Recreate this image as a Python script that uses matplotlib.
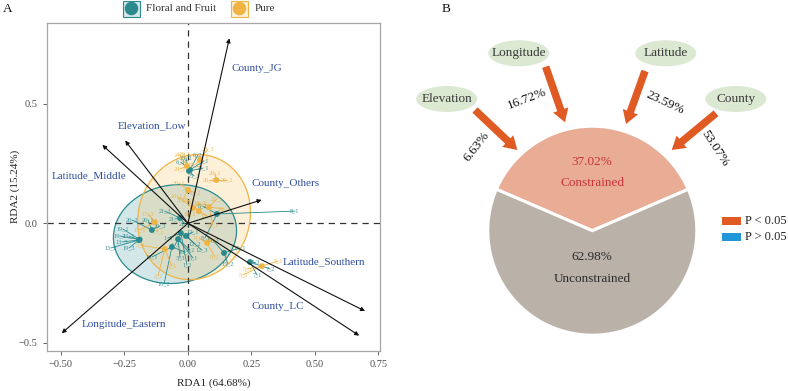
import numpy as np
import matplotlib
matplotlib.use("Agg")
import matplotlib.pyplot as plt
from matplotlib.patches import Ellipse, FancyArrow, Rectangle

plt.rcParams['font.family'] = ['Liberation Serif', 'DejaVu Serif']

# ---------------- Panel A data (RDA scores) ----------------
env_names = ["County_JG", "Elevation_Low", "Latitude_Middle", "County_Others",
             "Latitude_Southern", "County_LC", "Longitude_Eastern"]
env_x = [0.163, -0.247, -0.337, 0.290, 0.697, 0.674, -0.497]
env_y = [0.774, 0.346, 0.328, 0.098, -0.367, -0.470, -0.460]
env_lab_x = [0.270, -0.143, -0.389, 0.385, 0.537, 0.353, -0.251]
env_lab_y = [0.648, 0.407, 0.199, 0.167, -0.161, -0.349, -0.423]

# sites: group, centroid, replicate scores
site_names = ["13", "19", "20", "21", "1", "3", "12", "8", "15", "7", "6", "25", "16",
              "2", "17", "10", "18", "22", "26", "24", "28", "30", "9", "5"]
site_group = ["F"] * 13 + ["P"] * 11
site_cx = [-0.193, -0.190, -0.142, -0.031, -0.028, -0.039, -0.008, 0.114, 0.142, 0.244, 0.008, 0.004, -0.063,
           -0.091, -0.130, 0.020, 0.043, 0.083, 0.112, -0.004, 0.047, 0.000, 0.075, 0.291]
site_cy = [-0.070, -0.068, -0.028, 0.022, -0.041, -0.066, -0.053, 0.039, -0.124, -0.162, 0.223, 0.219, -0.099,
           -0.108, 0.005, 0.064, 0.051, 0.068, 0.181, 0.240, 0.265, 0.139, -0.082, -0.179]
rep_x = [[-0.232, -0.303, -0.260], [-0.256, -0.268, -0.232], [-0.157, -0.220, -0.110],
         [-0.051, -0.012, -0.091], [-0.079, -0.004, -0.051], [0.020, 0.008, -0.031],
         [0.020, 0.028, 0.055], [0.421, 0.059, 0.067], [0.205, 0.157, 0.098],
         [0.272, 0.323, 0.264], [0.063, 0.039, -0.028], [0.059, -0.008, 0.024],
         [-0.142, -0.094, -0.012],
         [-0.063, -0.118, -0.189], [-0.189, -0.118, -0.157], [-0.043, 0.008, 0.047],
         [0.055, 0.075, 0.000], [0.114, 0.098, 0.142], [0.106, 0.154, 0.083],
         [-0.031, -0.031, -0.016], [0.059, 0.028, 0.079], [-0.035, 0.028, -0.020],
         [0.098, 0.106, 0.043], [0.354, 0.217, 0.232]]
rep_y = [[-0.053, -0.103, -0.078], [-0.024, -0.053, -0.103], [0.014, 0.014, -0.011],
         [0.018, -0.003, 0.051], [-0.062, -0.174, -0.091], [-0.145, -0.112, -0.145],
         [-0.036, -0.087, -0.112], [0.051, 0.072, -0.062], [-0.103, -0.170, -0.070],
         [-0.216, -0.191, -0.162], [0.261, 0.286, 0.256], [0.231, 0.273, 0.198],
         [-0.141, -0.254, -0.120],
         [-0.179, -0.221, -0.091], [-0.028, -0.036, 0.039], [0.114, 0.039, 0.085],
         [0.081, 0.031, 0.097], [0.102, -0.007, 0.060], [0.210, 0.181, 0.181],
         [0.227, 0.286, 0.290], [0.273, 0.244, 0.311], [0.169, 0.127, 0.098],
         [-0.070, -0.141, -0.062], [-0.158, -0.216, -0.191]]
rep_ids = ["1", "2", "3"]

# group ellipses: center x, center y, width, height, angle
ell_group = ["F", "P"]
ell_cx = [-0.051, 0.024]
ell_cy = [-0.045, 0.026]
ell_w = [0.488, 0.440]
ell_h = [0.410, 0.527]
ell_ang = [12, -12]
group_labels = {"F": "Floral and Fruit", "P": "Pure"}

x_label = "RDA1 (64.68%)"
y_label = "RDA2 (15.24%)"
x_ticks = [-0.50, -0.25, 0.00, 0.25, 0.50, 0.75]
y_ticks = [-0.5, 0.0, 0.5]

# ---------------- Panel B data ----------------
pie_labels = ["Constrained", "Unconstrained"]
pie_values = [37.02, 62.98]
factor_names = ["Elevation", "Longitude", "Latitude", "County"]
factor_pct = [6.63, 16.72, 23.59, 53.07]
factor_sig = [True, True, True, True]
legend_labels = ["P < 0.05", "P > 0.05"]

colors = {"F": "#2a8a8e", "P": "#f0b445"}
fills = {"F": "#2a8a8e", "P": "#f0b445"}
blue_txt = "#2f4e9e"

W, H = 788, 391
fig = plt.figure(figsize=(W / 100, H / 100), dpi=100)

# ---------------- Panel A ----------------
ax = fig.add_axes([46.7 / W, 1 - 350.7 / H, (380 - 46.7) / W, (350.7 - 23) / H])
ax.set_xlim(-0.556, 0.756)
ax.set_ylim(-0.533, 0.838)

for g, cx, cy, w, h, a in zip(ell_group, ell_cx, ell_cy, ell_w, ell_h, ell_ang):
    ax.add_patch(Ellipse((cx, cy), w, h, angle=a, facecolor=fills[g], alpha=0.2,
                         edgecolor='none', zorder=1))
    ax.add_patch(Ellipse((cx, cy), w, h, angle=a, facecolor='none',
                         edgecolor=colors[g], lw=0.9, zorder=2))

ax.axhline(0, color='#333333', lw=0.9, ls=(0, (5, 4)), zorder=2)
ax.axvline(0, color='#333333', lw=0.9, ls=(0, (5, 4)), zorder=2)

for name, g, cx, cy, rx, ry in zip(site_names, site_group, site_cx, site_cy, rep_x, rep_y):
    c = colors[g]
    for rid, x, y in zip(rep_ids, rx, ry):
        ax.plot([cx, x], [cy, y], color=c, lw=0.6, zorder=3)
        ax.text(x, y, f"{name}_{rid}", color=c, fontsize=4.5, ha='center', va='center',
                alpha=0.9, zorder=4)
    ax.scatter([cx], [cy], s=18, color=c, zorder=5, edgecolors='none')

for name, x, y, lx, ly in zip(env_names, env_x, env_y, env_lab_x, env_lab_y):
    ax.annotate("", xy=(x, y), xytext=(0, 0),
                arrowprops=dict(arrowstyle='-|>', color='#111111', lw=0.8,
                                mutation_scale=6, shrinkA=0, shrinkB=0), zorder=6)
    ax.text(lx, ly, name, color=blue_txt, fontsize=8, ha='center', va='center', zorder=7)

ax.set_xticks(x_ticks)
ax.set_xticklabels([f"{t:.2f}".replace("-", "\u2212") for t in x_ticks])
ax.set_yticks(y_ticks)
ax.set_yticklabels([f"{t:.1f}".replace("-", "\u2212") for t in y_ticks])
ax.tick_params(labelsize=7.5, labelcolor='#4d4d4d', color='#4d4d4d', length=3, width=0.6)
for s in ax.spines.values():
    s.set_color('#a6a6a6')
    s.set_linewidth(0.9)
ax.set_xlabel(x_label, fontsize=8, color='#222222')
ax.set_ylabel(y_label, fontsize=8, color='#222222')
ax.xaxis.set_label_coords(0.5, -0.083)
ax.yaxis.set_label_coords(-0.08, 0.5)

# ---------------- overlay (pixel coords) ----------------
ov = fig.add_axes([0, 0, 1, 1], zorder=10)
ov.set_xlim(0, W)
ov.set_ylim(H, 0)
ov.axis('off')
ov.patch.set_alpha(0)

ov.text(3, 9, "A", fontsize=9.5, ha='left', va='center', color='#111111')
ov.text(442, 9, "B", fontsize=9.5, ha='left', va='center', color='#111111')

key_x = [123, 231]
text_x = [146, 255]
for g, kx, tx in zip(ell_group, key_x, text_x):
    ov.add_patch(Rectangle((kx, 0.5), 17, 16, facecolor=fills[g], alpha=0.2, edgecolor='none'))
    ov.add_patch(Rectangle((kx, 0.5), 17, 16, facecolor='none', edgecolor=colors[g], lw=0.8))
    ov.scatter([kx + 8.5], [8.5], s=95, color=colors[g], edgecolors='none')
    ov.text(tx, 8.5, group_labels[g], fontsize=8, ha='left', va='center', color='#333333')

# ---------------- Panel B ----------------
axB = fig.add_axes([400 / W, 0, 388 / W, 1])
pcx, pcy, pr = 592.3, H - 230.7, 104.5
start = 90 - pie_values[0] / 100 * 360 / 2
axB.pie(pie_values, colors=['#e9ad95', '#bab2a9'], startangle=start, counterclock=True,
        center=(pcx, pcy), radius=pr,
        wedgeprops=dict(edgecolor='white', linewidth=2.2))
axB.set_xlim(400, 788)
axB.set_ylim(0, H)
axB.set_aspect('equal')
axB.axis('off')

axB.text(pcx, H - 161.7, f"{pie_values[0]:.2f}%", color='#c8333d', fontsize=9.5, ha='center', va='center')
axB.text(pcx, H - 183.3, pie_labels[0], color='#c8333d', fontsize=9.5, ha='center', va='center')
axB.text(pcx, H - 256.7, f"{pie_values[1]:.2f}%", color='#2b2b2b', fontsize=9.5, ha='center', va='center')
axB.text(pcx, H - 279.3, pie_labels[1], color='#2b2b2b', fontsize=9.5, ha='center', va='center')

ell_pos = [(446.7, 99), (518.8, 53.3), (665.8, 53.3), (735.8, 99)]
arr_from = [(475, 110), (545.7, 66.7), (645, 71), (716, 113.3)]
arr_to = [(517.3, 150), (565, 122.3), (626, 124), (671.7, 150)]
pct_pos = [(476.7, 146.7), (526.7, 99.3), (665, 103.3), (715, 148.3)]
pct_rot = [52, 21, -25, -57]
sig_colors = {True: '#e05a24', False: '#2196d8'}

for name, pct, sig, ep, af, at, pp, rot in zip(factor_names, factor_pct, factor_sig,
                                               ell_pos, arr_from, arr_to, pct_pos, pct_rot):
    axB.add_patch(Ellipse((ep[0], H - ep[1]), 61, 26, facecolor='#dbe8d2', edgecolor='none'))
    axB.text(ep[0], H - ep[1], name, fontsize=9.5, color='#3a3a3a', ha='center', va='center')
    dx, dy = at[0] - af[0], -(at[1] - af[1])
    axB.add_patch(FancyArrow(af[0], H - af[1], dx, dy, width=7.5, head_width=16,
                             head_length=13, length_includes_head=True,
                             color=sig_colors[sig], lw=0))
    axB.text(pp[0], H - pp[1], f"{pct:.2f}%", fontsize=9.5, color='#111111',
             rotation=rot, ha='center', va='center', rotation_mode='anchor')

for i, (lab, sig) in enumerate(zip(legend_labels, [True, False])):
    yc = H - (220.7 + 16 * i)
    axB.add_patch(Rectangle((721.5, yc - 4), 19, 8, facecolor=sig_colors[sig], edgecolor='none'))
    axB.text(745, yc, lab, fontsize=9, color='#222222', ha='left', va='center')

fig.savefig("out.png", dpi=100)
